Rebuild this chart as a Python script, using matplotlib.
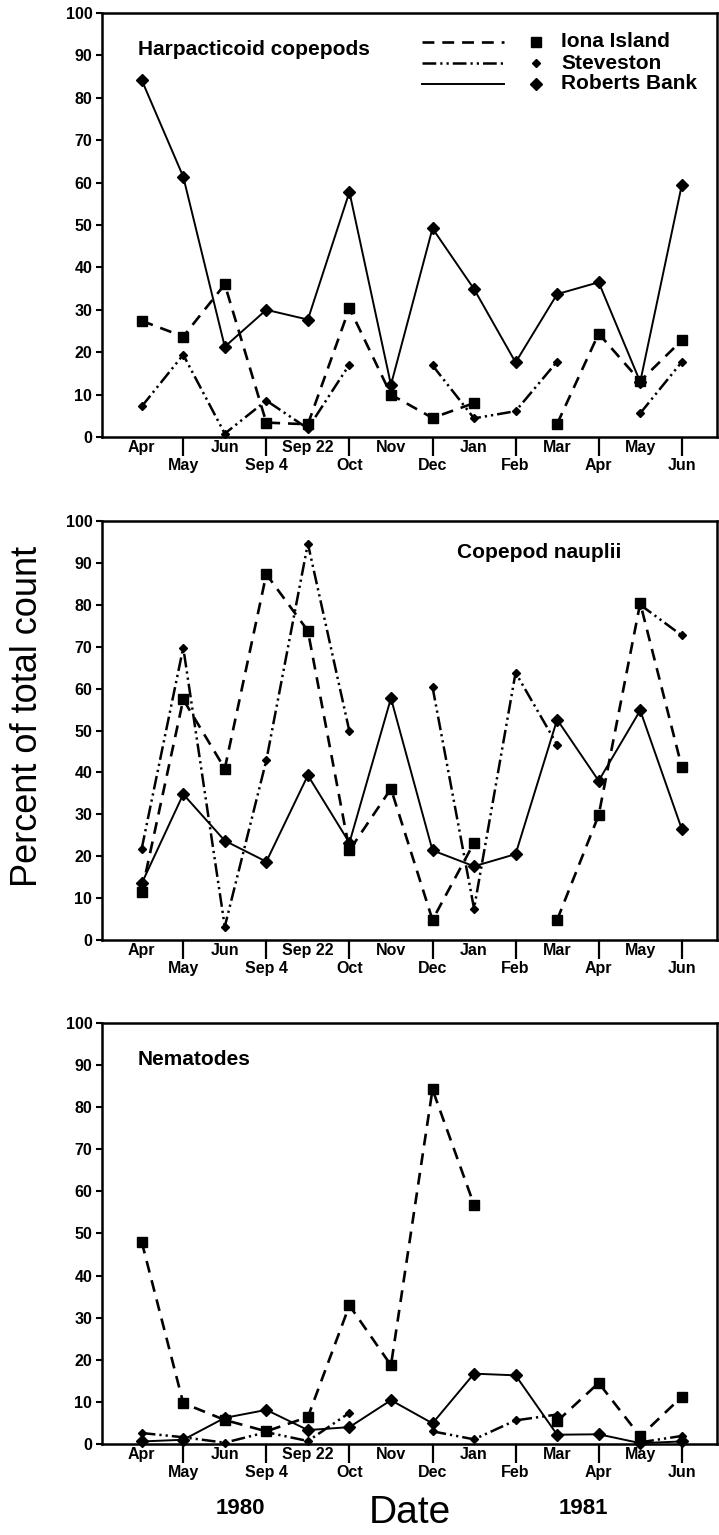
import matplotlib.pyplot as plt
import numpy as np

plt.rcParams['font.family'] = ['Liberation Sans', 'DejaVu Sans']

nan = np.nan

# sampling dates, 1980-1981
dates = ['Apr', 'May', 'Jun', 'Sep 4', 'Sep 22', 'Oct', 'Nov', 'Dec',
         'Jan', 'Feb', 'Mar', 'Apr', 'May', 'Jun']

# Harpacticoid copepods (% of total count)
harp_iona = [27.4, 23.7, 36.0, 3.4, 3.0, 30.4, 10.0, 4.5, 8.0, nan, 3.1, 24.4, 13.2, 22.8]
harp_stev = [7.2, 19.4, 0.8, 8.6, 2.0, 17.1, nan, 16.9, 4.4, 6.1, 17.8, nan, 5.6, 17.7]
harp_rob = [84.2, 61.4, 21.3, 30.0, 27.7, 57.8, 12.3, 49.2, 34.9, 17.6, 33.7, 36.5, 13.0, 59.4]

# Copepod nauplii
naup_iona = [11.5, 57.4, 40.9, 87.3, 73.8, 21.4, 36.1, 4.8, 23.2, nan, 4.8, 29.8, 80.4, 41.3]
naup_stev = [21.8, 69.8, 3.2, 42.9, 94.6, 49.8, nan, 60.4, 7.5, 63.8, 46.6, nan, 80.0, 72.7]
naup_rob = [13.5, 34.8, 23.7, 18.7, 39.3, 23.2, 57.7, 21.4, 17.6, 20.5, 52.6, 38.0, 54.8, 26.5]

# Nematodes
nema_iona = [48.0, 9.7, 5.7, 3.0, 6.4, 32.9, 18.7, 84.2, 56.8, nan, 5.4, 14.5, 1.8, 11.2]
nema_stev = [2.6, 1.6, 0.3, 2.8, 0.7, 7.4, nan, 3.0, 1.1, 5.6, 7.0, nan, 0.4, 1.9]
nema_rob = [0.6, 1.0, 6.2, 8.1, 3.3, 4.0, 10.4, 4.9, 16.7, 16.3, 2.2, 2.3, 0.2, 0.6]

sites = ['Iona Island', 'Steveston', 'Roberts Bank']

# line / marker style per site
styles = [
    dict(lw=1.9, dashes=(4.5, 3.0), marker='s', ms=7.0),
    dict(lw=1.8, dashes=(5.5, 1.6, 0.9, 1.6, 0.9, 1.6), marker='D', ms=3.8),
    dict(lw=1.4, dashes=(None, None), marker='D', ms=6.0),
]

x = np.arange(len(dates))

fig = plt.figure(figsize=(7.19, 15.35), dpi=100)

panels = [
    ('Harpacticoid copepods', [harp_iona, harp_stev, harp_rob], [0.1419, 0.7153, 0.856, 0.2762], (-0.09, 91.5)),
    ('Copepod nauplii', [naup_iona, naup_stev, naup_rob], [0.1419, 0.3876, 0.856, 0.2730], (7.6, 92.4)),
    ('Nematodes', [nema_iona, nema_stev, nema_rob], [0.1419, 0.0593, 0.856, 0.2743], (-0.09, 91.2)),
]

tick_font = dict(fontsize=11.5, fontweight='bold')

for i, (title, series, rect, tpos) in enumerate(panels):
    ax = fig.add_axes(rect)
    for vals, st in zip(series, styles):
        ax.plot(x, vals, color='black', lw=st['lw'], dashes=st['dashes'],
                marker=st['marker'], ms=st['ms'], mfc='black', mec='black',
                clip_on=False, zorder=3)
    ax.set_xlim(-0.955, 13.86)
    ax.set_ylim(0, 100)

    # even dates sit just under the axis, odd dates hang below long ticks
    ax.set_xticks(x[::2])
    ax.set_xticklabels(dates[::2], **tick_font)
    ax.set_xticks(x[1::2], minor=True)
    ax.set_xticklabels(dates[1::2], minor=True, **tick_font)
    ax.tick_params(axis='x', which='major', length=0, pad=2.0)
    ax.tick_params(axis='x', which='minor', length=14, width=1.6, pad=1.0, direction='out')

    ax.set_yticks(np.arange(0, 101, 10))
    ax.set_yticklabels([str(v) for v in range(0, 101, 10)], **tick_font)
    ax.tick_params(axis='y', which='major', length=4, width=1.5, pad=3, direction='out')

    for s in ax.spines.values():
        s.set_linewidth(1.8)

    ax.text(tpos[0], tpos[1], title, fontsize=15, fontweight='bold', va='center', ha='left')

    if i == 0:
        # legend: line sample, marker, label
        rows = [0.932, 0.882, 0.833]
        for name, st, ry in zip(sites, styles, rows):
            ax.plot([0.52, 0.653], [ry, ry], transform=ax.transAxes, color='black',
                    lw=st['lw'], dashes=st['dashes'], clip_on=False)
            ax.plot([0.7045], [ry], transform=ax.transAxes, marker=st['marker'],
                    ms=st['ms'], color='black', linestyle='none', clip_on=False)
            ax.text(0.746, ry, name, transform=ax.transAxes, fontsize=15,
                    fontweight='bold', va='center', ha='left')

fig.text(28 / 719, 1 - 716 / 1535, 'Percent of total count', rotation=90,
         fontsize=26, ha='center', va='center')
fig.text(240 / 719, 1 - 1508 / 1535, '1980', fontsize=16, fontweight='bold',
         ha='center', va='center')
fig.text(583 / 719, 1 - 1508 / 1535, '1981', fontsize=16, fontweight='bold',
         ha='center', va='center')
fig.text(410 / 719, 1 - 1513 / 1535, 'Date', fontsize=28, ha='center', va='center')

fig.savefig('out.png', dpi=100, facecolor='white')
